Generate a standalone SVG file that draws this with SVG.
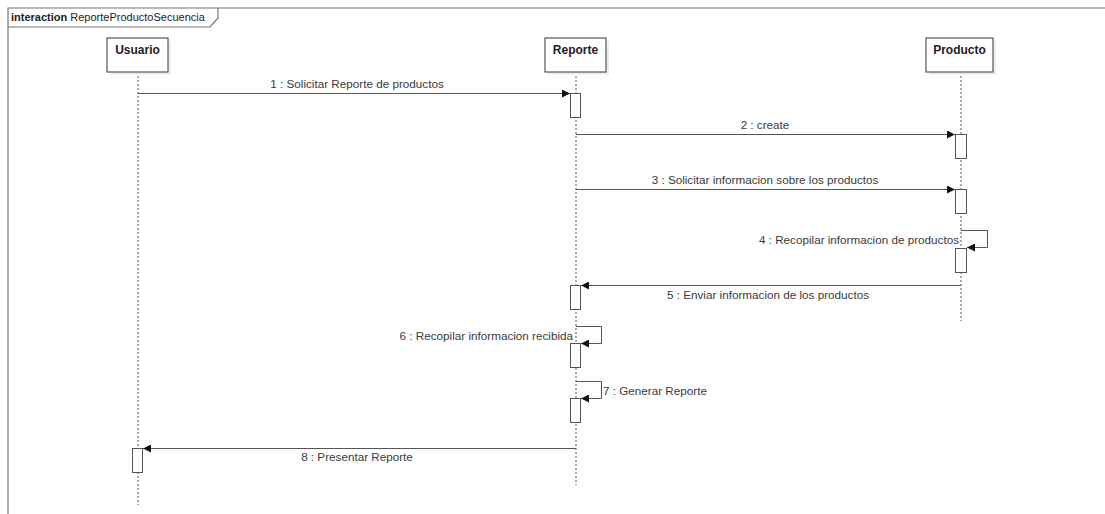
<svg xmlns="http://www.w3.org/2000/svg" width="1105" height="514" viewBox="0 0 1105 514">
<style>
text{font-family:"Liberation Sans",Arial,sans-serif;font-size:11.7px;fill:#3a3a3a}
.frame{fill:none;stroke:#777;stroke-width:1.2}
.box{fill:#fff;stroke:#555;stroke-width:1.2}
.shadow{fill:#eee}
.life{stroke:#555;stroke-width:1;stroke-dasharray:2,2;fill:none}
.act{fill:#fff;stroke:#555;stroke-width:1}
.msg{stroke:#555;stroke-width:1;fill:none;marker-end:url(#ah)}
.name{font-weight:bold;font-size:12px;text-anchor:middle;fill:#222}
</style>
<defs>
<marker id="ah" viewBox="0 0 10 10" refX="10" refY="5" markerWidth="10" markerHeight="8" markerUnits="userSpaceOnUse" orient="auto">
<path d="M0,0 L10,5 L0,10 z" fill="#111"/>
</marker>
</defs>
<rect width="1105" height="514" fill="#fff"/>
<g id="frame">
<path class="frame" d="M8,514 V8 H1105"/>
<path class="frame" d="M8,27 H210 L218,18 V8"/>
<text x="11" y="21" style="fill:#222;font-size:11px"><tspan font-weight="bold">interaction</tspan> ReporteProductoSecuencia</text>
</g>
<g id="lifelines">
<line class="life" x1="138" y1="72" x2="138" y2="505"/>
<line class="life" x1="576" y1="72" x2="576" y2="485"/>
<line class="life" x1="961" y1="72" x2="961" y2="321"/>
</g>
<g id="usuario">
<rect class="shadow" x="110" y="41" width="61" height="34"/>
<rect class="box" x="107" y="38" width="61" height="34"/>
<text class="name" x="137.5" y="54">Usuario</text>
</g>
<g id="reporte">
<rect class="shadow" x="548" y="41" width="61" height="34"/>
<rect class="box" x="545" y="38" width="61" height="34"/>
<text class="name" x="575.5" y="54">Reporte</text>
</g>
<g id="producto">
<rect class="shadow" x="929" y="41" width="67" height="34"/>
<rect class="box" x="926" y="38" width="67" height="34"/>
<text class="name" x="959.5" y="54">Producto</text>
</g>
<g id="activations">
<rect class="act" x="570.5" y="93.5" width="10" height="24"/>
<rect class="act" x="955.5" y="134.5" width="11" height="24"/>
<rect class="act" x="955.5" y="189.5" width="11" height="24"/>
<rect class="act" x="955.5" y="248.5" width="11" height="24"/>
<rect class="act" x="570.5" y="285.5" width="10" height="24"/>
<rect class="act" x="570.5" y="343.5" width="10" height="24"/>
<rect class="act" x="570.5" y="398.5" width="10" height="24"/>
<rect class="act" x="132.5" y="448.5" width="10" height="24"/>
</g>
<g id="connectors">
<line class="msg" x1="138" y1="93.5" x2="570" y2="93.5"/>
<line class="msg" x1="576" y1="134.5" x2="955" y2="134.5"/>
<line class="msg" x1="576" y1="189.5" x2="955" y2="189.5"/>
<polyline class="msg" points="961,230.5 987.5,230.5 987.5,247.5 967,247.5"/>
<line class="msg" x1="961" y1="285.5" x2="581" y2="285.5"/>
<polyline class="msg" points="576,326.5 601.5,326.5 601.5,343.5 581,343.5"/>
<polyline class="msg" points="576,381.5 601.5,381.5 601.5,398.5 581,398.5"/>
<line class="msg" x1="576" y1="448.5" x2="143" y2="448.5"/>
</g>
<g id="labels">
<text x="357" y="88" text-anchor="middle">1 : Solicitar Reporte de productos</text>
<text x="765" y="129" text-anchor="middle">2 : create</text>
<text x="765" y="184" text-anchor="middle">3 : Solicitar informacion sobre los productos</text>
<text x="959" y="244" text-anchor="end">4 : Recopilar informacion de productos</text>
<text x="768" y="299" text-anchor="middle">5 : Enviar informacion de los productos</text>
<text x="573" y="340" text-anchor="end">6 : Recopilar informacion recibida</text>
<text x="603" y="395">7 : Generar Reporte</text>
<text x="357" y="461" text-anchor="middle">8 : Presentar Reporte</text>
</g>
</svg>
